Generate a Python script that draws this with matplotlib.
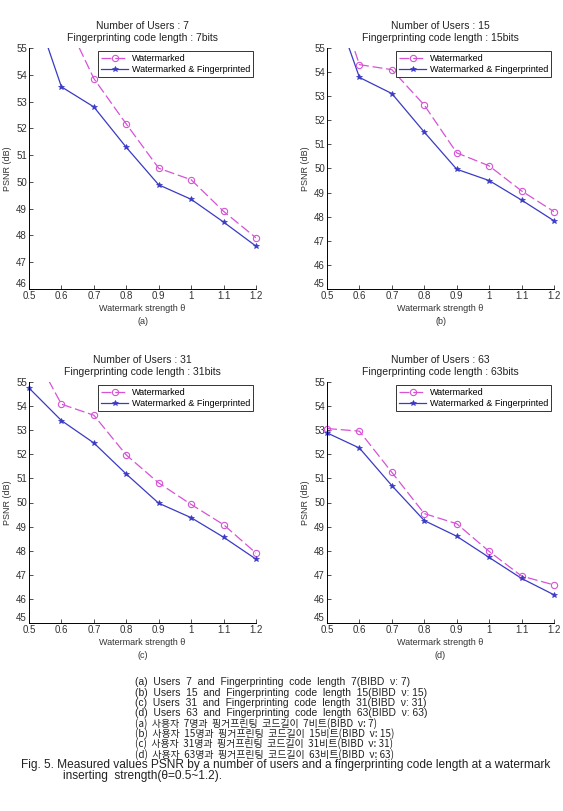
import numpy as np
import matplotlib
matplotlib.use("Agg")
import matplotlib.pyplot as plt

plt.rcParams['font.family'] = ['Liberation Sans', 'DejaVu Sans']

strength = [0.5, 0.6, 0.7, 0.8, 0.9, 1.0, 1.1, 1.2]

# PSNR values per panel (values above 55 are cut off by the axes)
wm_7 = [np.nan, 56.4, 53.86, 52.16, 50.51, 50.08, 48.90, 47.91]
wf_7 = [57.1, 53.55, 52.80, 51.29, 49.89, 49.35, 48.50, 47.60]
wm_15 = [58.3, 54.31, 54.10, 52.63, 50.65, 50.11, 49.07, 48.21]
wf_15 = [57.6, 53.78, 53.11, 51.51, 49.97, 49.50, 48.69, 47.83]
wm_31 = [56.57, 54.08, 53.62, 51.97, 50.81, 49.92, 49.08, 47.90]
wf_31 = [54.75, 53.40, 52.47, 51.18, 49.97, 49.37, 48.56, 47.65]
wm_63 = [53.07, 52.96, 51.25, 49.54, 49.12, 47.97, 46.95, 46.58]
wf_63 = [52.89, 52.26, 50.70, 49.25, 48.60, 47.72, 46.85, 46.17]

users = [7, 15, 31, 63]
ymins = [46, 45, 45, 45]
letters = ['(a)', '(b)', '(c)', '(d)']

captions_en = [
    "(a)  Users  7  and  Fingerprinting  code  length  7(BIBD  ν: 7)",
    "(b)  Users  15  and  Fingerprinting  code  length  15(BIBD  ν: 15)",
    "(c)  Users  31  and  Fingerprinting  code  length  31(BIBD  ν: 31)",
    "(d)  Users  63  and  Fingerprinting  code  length  63(BIBD  ν: 63)",
]
captions_ko = [
    "(a)  사용자  7명과  핑거프린팅  코드길이  7비트(BIBD  ν: 7)",
    "(b)  사용자  15명과  핑거프린팅  코드길이  15비트(BIBD  ν: 15)",
    "(c)  사용자  31명과  핑거프린팅  코드길이  31비트(BIBD  ν: 31)",
    "(d)  사용자  63명과  핑거프린팅  코드길이  63비트(BIBD  ν: 63)",
]
fig_caption1 = "Fig. 5. Measured values PSNR by a number of users and a fingerprinting code length at a watermark"
fig_caption2 = "inserting  strength(θ=0.5~1.2)."

wm_all = [wm_7, wm_15, wm_31, wm_63]
wf_all = [wf_7, wf_15, wf_31, wf_63]

pink = '#d653d6'
blue = '#3a3ac4'

fig = plt.figure(figsize=(5.63, 8.11), dpi=100)
W, H = 563.0, 811.0

# axes boxes in pixels: left, top, right, bottom
boxes = [(29, 48, 256, 289), (327, 48, 554, 289),
         (29, 382, 256, 623), (327, 382, 554, 623)]

for i in range(4):
    l, t, r, b = boxes[i]
    ax = fig.add_axes([l / W, 1 - b / H, (r - l) / W, (b - t) / H])
    wm = np.array(wm_all[i])
    wf = np.array(wf_all[i])
    # lines (clipped at the top of the axes)
    ax.plot(strength, wm, color=pink, linestyle=(0, (8, 3)), linewidth=0.9)
    ax.plot(strength, wf, color=blue, linestyle='-', linewidth=0.9)
    # markers for visible points, not clipped at the border
    ax.plot(strength, np.where(wm <= 55, wm, np.nan), linestyle='none', color=pink,
            marker='o', markersize=4.5, markerfacecolor='none', markeredgewidth=0.8,
            clip_on=False)
    ax.plot(strength, np.where(wf <= 55, wf, np.nan), linestyle='none', color=blue,
            marker='*', markersize=4, markeredgewidth=0.5, clip_on=False)
    # legend handles
    ax.plot([], [], color=pink, linestyle=(0, (8, 3)), linewidth=0.9, marker='o',
            markersize=4.5, markerfacecolor='none', markeredgewidth=0.8, label='Watermarked')
    ax.plot([], [], color=blue, linestyle='-', linewidth=0.9, marker='*',
            markersize=4, markeredgewidth=0.5, label='Watermarked & Fingerprinted')
    ax.set_xlim(0.5, 1.2)
    ax.set_ylim(ymins[i], 55)
    ax.set_xticks(strength)
    ax.set_xticklabels(['0.5', '0.6', '0.7', '0.8', '0.9', '1', '1.1', '1.2'])
    ax.set_yticks(range(ymins[i], 56))
    ax.tick_params(direction='in', length=3, labelsize=7, width=0.6, pad=1.5,
                   colors='#333333')
    # lowest y label sits just above the corner, as in the original
    ax.get_yticklabels()[0].set_va('bottom')
    ax.spines['top'].set_visible(False)
    ax.spines['right'].set_visible(False)
    ax.spines['left'].set_linewidth(0.7)
    ax.spines['bottom'].set_linewidth(0.7)
    ax.set_title("Number of Users : %d\nFingerprinting code length : %dbits" % (users[i], users[i]),
                 fontsize=7.5, pad=5, linespacing=1.25, color='#222222')
    ax.set_ylabel('PSNR (dB)', fontsize=6.5, labelpad=3, color='#333333')
    ax.set_xlabel('Watermark strength θ', fontsize=6.5, labelpad=2, color='#333333')
    ax.text(0.5, -0.115, letters[i], transform=ax.transAxes, ha='center', va='top',
            fontsize=6.5, color='#333333')
    leg = ax.legend(loc='upper right', fontsize=6.5, fancybox=False, framealpha=1,
                    edgecolor='#333333', borderpad=0.35, handlelength=3,
                    handletextpad=0.4, labelspacing=0.25, borderaxespad=0.3)
    leg.get_frame().set_linewidth(0.7)

ys = [682, 692.5, 703, 713, 723.5, 734, 744, 754.5]
for k in range(4):
    fig.text(135 / W, 1 - ys[k] / H, captions_en[k], fontsize=7.4, va='center', ha='left',
             family=['Liberation Sans', 'DejaVu Sans'], color='#222222')
    fig.text(135 / W, 1 - ys[k + 4] / H, captions_ko[k], fontsize=7.2, va='center', ha='left',
             family=['Noto Sans CJK KR', 'DejaVu Sans'], color='#222222')
fig.text(21 / W, 1 - 765 / H, fig_caption1, fontsize=8.6, va='center', ha='left',
         color='#222222')
fig.text(63 / W, 1 - 776 / H, fig_caption2, fontsize=8.6, va='center', ha='left',
         color='#222222')

fig.savefig('out.png', dpi=100)
